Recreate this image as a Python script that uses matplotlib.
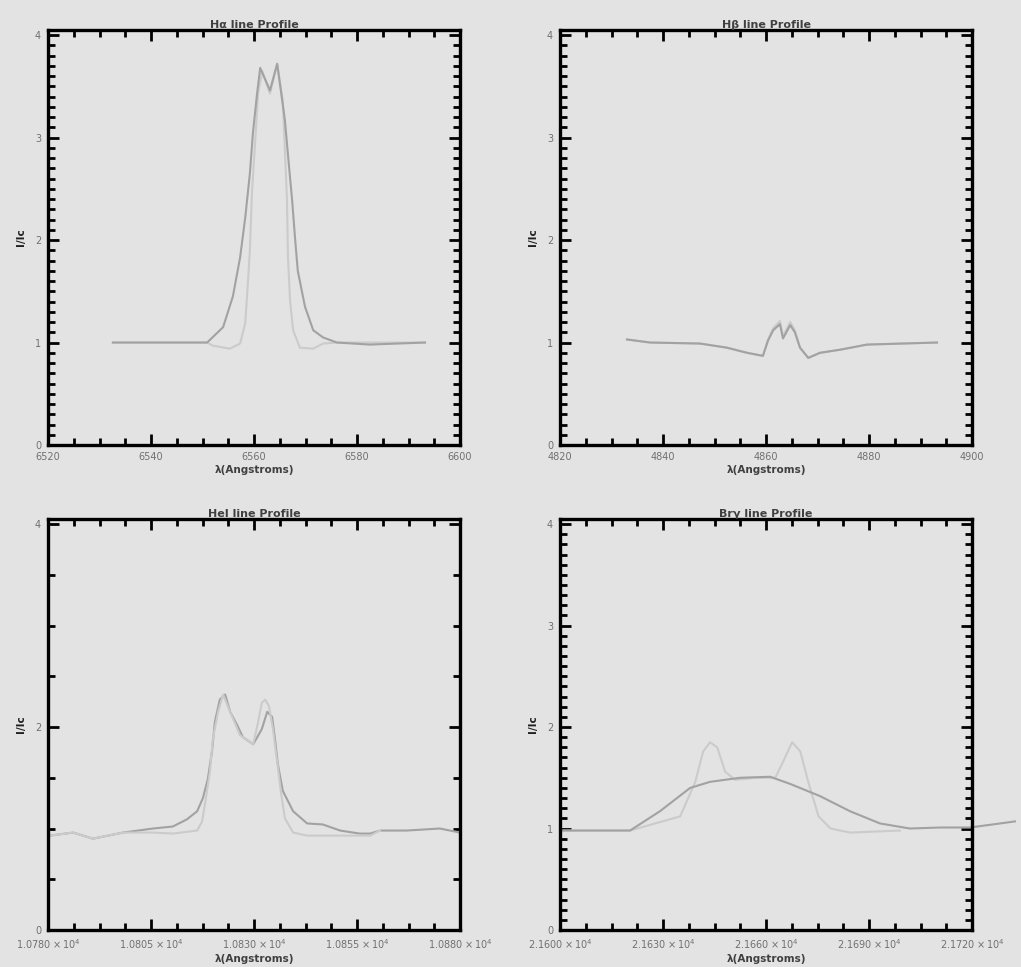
import matplotlib
matplotlib.use("Agg")
import matplotlib.pyplot as plt
from matplotlib.ticker import AutoMinorLocator, FixedLocator, FixedFormatter

# H-alpha panel
ha_wave_obs = [6532.6, 6550.9, 6554.0, 6555.9, 6557.3, 6558.3, 6559.2, 6559.8, 6560.6, 6561.2,
               6563.1, 6564.5, 6566.0, 6566.6, 6567.4, 6568.0, 6568.5, 6569.9, 6571.5, 6573.4,
               6576.1, 6582.5, 6593.2]
ha_flux_obs = [1.00, 1.00, 1.15, 1.45, 1.83, 2.22, 2.65, 3.05, 3.43, 3.68,
               3.46, 3.72, 3.17, 2.83, 2.39, 2.00, 1.70, 1.35, 1.12, 1.05,
               1.00, 0.98, 1.00]
ha_wave_mod = [6532.6, 6550.9, 6552.0, 6555.3, 6557.3, 6558.3, 6558.8, 6559.2, 6559.6, 6560.2,
               6560.8, 6561.6, 6563.1, 6564.5, 6565.6, 6566.0, 6566.4, 6566.6, 6567.0, 6567.6,
               6568.9, 6571.5, 6573.4, 6576.1, 6593.2]
ha_flux_mod = [1.00, 1.00, 0.97, 0.94, 0.99, 1.19, 1.57, 1.90, 2.46, 2.94,
               3.43, 3.65, 3.43, 3.72, 3.36, 2.87, 2.39, 1.83, 1.41, 1.12,
               0.95, 0.94, 0.99, 1.00, 1.00]

# H-beta panel
hb_wave_obs = [4833.0, 4837.5, 4847.2, 4852.4, 4856.3, 4859.4, 4860.4, 4861.4, 4862.7, 4863.3,
               4864.7, 4865.6, 4866.6, 4868.2, 4870.5, 4874.4, 4879.6, 4893.2]
hb_flux_obs = [1.03, 1.00, 0.99, 0.95, 0.90, 0.87, 1.02, 1.12, 1.18, 1.04,
               1.17, 1.10, 0.95, 0.85, 0.90, 0.93, 0.98, 1.00]
hb_flux_mod = [1.03, 1.00, 0.99, 0.95, 0.90, 0.87, 1.03, 1.14, 1.21, 1.06,
               1.20, 1.12, 0.95, 0.85, 0.90, 0.93, 0.98, 1.00]

# He I 10830 panel
he_wave_obs = [10780.5, 10786.1, 10790.9, 10798.2, 10805.5, 10810.3, 10813.7, 10816.2, 10817.6, 10818.8,
               10819.8, 10820.5, 10821.7, 10823.0, 10824.2, 10825.9, 10827.3, 10829.8, 10831.9, 10833.2,
               10834.4, 10835.1, 10835.8, 10837.0, 10839.5, 10842.9, 10846.7, 10850.9, 10855.7, 10858.2,
               10860.6, 10867.1, 10875.1, 10880.0]
he_flux_obs = [0.93, 0.96, 0.90, 0.96, 1.00, 1.02, 1.09, 1.17, 1.30, 1.49,
               1.76, 2.05, 2.27, 2.32, 2.15, 2.02, 1.90, 1.83, 1.98, 2.15,
               2.10, 1.88, 1.63, 1.37, 1.17, 1.05, 1.04, 0.98, 0.95, 0.95,
               0.98, 0.98, 1.00, 0.96]
he_wave_mod = [10780.5, 10786.1, 10790.9, 10798.2, 10805.5, 10810.3, 10816.2, 10817.4, 10818.1, 10819.3,
               10820.0, 10821.3, 10822.5, 10824.2, 10826.6, 10829.8, 10831.0, 10831.9, 10832.7, 10833.6,
               10834.6, 10835.6, 10836.6, 10837.5, 10839.5, 10842.9, 10850.9, 10858.2, 10860.6]
he_flux_mod = [0.93, 0.96, 0.90, 0.96, 0.96, 0.95, 0.98, 1.07, 1.24, 1.56,
               1.88, 2.15, 2.32, 2.15, 1.92, 1.83, 2.05, 2.24, 2.27, 2.21,
               1.98, 1.66, 1.34, 1.10, 0.96, 0.93, 0.93, 0.93, 0.98]

# Br gamma panel
br_wave_obs = [21600.0, 21620.4, 21629.1, 21637.9, 21643.7, 21652.4, 21661.2, 21667.0, 21675.7, 21684.5,
               21693.2, 21701.9, 21710.7, 21719.4, 21728.2, 21732.5]
br_flux_obs = [0.98, 0.98, 1.17, 1.40, 1.46, 1.50, 1.51, 1.44, 1.32, 1.17,
               1.05, 1.00, 1.01, 1.01, 1.05, 1.07]
br_wave_mod = [21600.0, 21620.4, 21635.0, 21639.4, 21641.7, 21643.7, 21645.8, 21648.1, 21651.0, 21656.9,
               21662.7, 21665.0, 21667.6, 21670.0, 21672.3, 21675.3, 21678.8, 21684.5, 21699.0]
br_flux_mod = [0.98, 0.98, 1.12, 1.46, 1.76, 1.85, 1.80, 1.56, 1.48, 1.50,
               1.50, 1.66, 1.85, 1.76, 1.46, 1.12, 1.00, 0.96, 0.98]

titles = ["H\u03b1 line Profile", "H\u03b2 line Profile", "HeI line Profile", "Br\u03b3 line Profile"]
ha_ticks = [6520, 6540, 6560, 6580, 6600]
hb_ticks = [4820, 4840, 4860, 4880, 4900]
he_ticks = [10780, 10805, 10830, 10855, 10880]
br_ticks = [21600, 21630, 21660, 21690, 21720]

BG = "#e3e3e3"
DARK = "#a2a2a2"
LIGHT = "#cbcbcb"

fig = plt.figure(figsize=(10.21, 9.67), dpi=100, facecolor=BG)

positions = [
    [48 / 1021, 1 - 445 / 967, 412 / 1021, 415 / 967],
    [560 / 1021, 1 - 445 / 967, 412 / 1021, 415 / 967],
    [48 / 1021, 1 - 930 / 967, 412 / 1021, 411 / 967],
    [560 / 1021, 1 - 930 / 967, 412 / 1021, 411 / 967],
]


def sci_label(v):
    return r"$%.4f\times10^{4}$" % (v / 1e4)


def style_axes(ax, title, xticks, xlabels, yticks, yminor, extend_x=False):
    ax.set_facecolor(BG)
    for s in ax.spines.values():
        s.set_linewidth(2.4)
        s.set_color("black")
    ax.set_xlim(xticks[0], xticks[-1])
    ax.set_ylim(0, 4.05)
    ax.xaxis.set_major_locator(FixedLocator(xticks))
    ax.xaxis.set_major_formatter(FixedFormatter(xlabels))
    ax.xaxis.set_minor_locator(AutoMinorLocator(4))
    ax.yaxis.set_major_locator(FixedLocator(yticks))
    ax.yaxis.set_minor_locator(AutoMinorLocator(yminor))
    ax.tick_params(which="both", direction="in", top=True, right=True, color="black",
                   labelsize=7, labelcolor="#707070")
    ax.tick_params(which="major", length=8, width=2, pad=5)
    ax.tick_params(which="minor", length=5, width=2)
    ax.set_title(title, fontsize=8, fontweight="bold", color="#404040", pad=1)
    ax.set_xlabel("\u03bb(Angstroms)", fontsize=7.5, fontweight="bold", color="#404040", labelpad=2)
    ax.set_ylabel("I/Ic", fontsize=7.5, fontweight="bold", color="#202020", labelpad=6)


axes = [fig.add_axes(p) for p in positions]

ax = axes[0]
ax.plot(ha_wave_mod, ha_flux_mod, color=LIGHT, lw=1.5)
ax.plot(ha_wave_obs, ha_flux_obs, color=DARK, lw=1.5)
style_axes(ax, titles[0], ha_ticks, [str(t) for t in ha_ticks], [0, 1, 2, 3, 4], 10)

ax = axes[1]
ax.plot(hb_wave_obs, hb_flux_mod, color=LIGHT, lw=1.5)
ax.plot(hb_wave_obs, hb_flux_obs, color=DARK, lw=1.5)
style_axes(ax, titles[1], hb_ticks, [str(t) for t in hb_ticks], [0, 1, 2, 3, 4], 10)

ax = axes[2]
ax.plot(he_wave_obs, he_flux_obs, color=DARK, lw=1.5)
ax.plot(he_wave_mod, he_flux_mod, color=LIGHT, lw=1.5)
style_axes(ax, titles[2], he_ticks, [sci_label(t) for t in he_ticks], [0, 2, 4], 4)

ax = axes[3]
ax.plot(br_wave_mod, br_flux_mod, color=LIGHT, lw=1.5, clip_on=False)
ax.plot(br_wave_obs, br_flux_obs, color=DARK, lw=1.5, clip_on=False)
style_axes(ax, titles[3], br_ticks, [sci_label(t) for t in br_ticks], [0, 1, 2, 3, 4], 10)

fig.savefig("out.png", dpi=100, facecolor=BG)
